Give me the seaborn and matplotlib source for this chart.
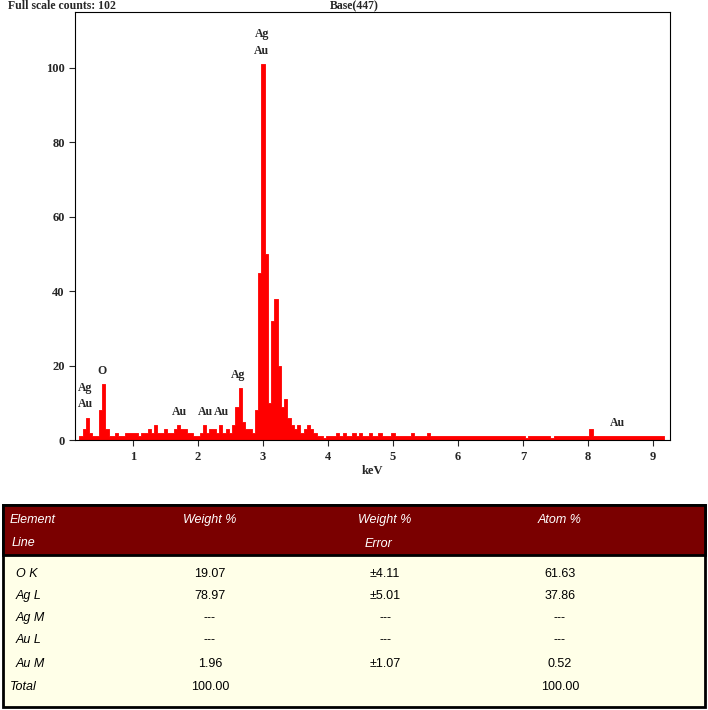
import numpy as np
import pandas as pd
import matplotlib
matplotlib.use("Agg")
import matplotlib.pyplot as plt
import seaborn as sns
from matplotlib.patches import Rectangle

sns.set_style("white")
plt.rcParams['font.family'] = ['Liberation Serif', 'DejaVu Serif']

# spectrum: energy start, step, counts
e_start = 0.20
e_step = 0.05
counts = [1, 3, 6, 2, 1, 1, 8, 15, 3, 1, 1, 2, 1, 1, 2, 2, 2, 2, 1, 2,
          2, 3, 2, 4, 2, 2, 3, 2, 2, 3, 4, 3, 3, 2, 2, 1, 1, 2, 4, 2,
          3, 3, 2, 4, 2, 3, 2, 4, 9, 14, 5, 3, 3, 2, 8, 45, 101, 50, 10, 32,
          38, 20, 9, 11, 6, 4, 3, 4, 2, 3, 4, 3, 2, 1, 1, 0.5, 1, 1, 1, 2,
          1, 2, 1, 1, 2, 1, 2, 1, 1, 2, 1, 1, 2, 1, 1, 1, 2, 1, 1, 1,
          1, 1, 2, 1, 1, 1, 1, 2, 1, 1, 1, 1, 1, 1, 1, 1, 1, 1, 1, 1,
          1, 1, 1, 1, 1, 1, 1, 1, 1, 1, 1, 1, 1, 1, 1, 1, 1, 0.5, 1, 1,
          1, 1, 1, 1, 1, 0.5, 1, 1, 1, 1, 1, 1, 1, 1, 1, 1, 1, 3, 1, 1,
          1, 1, 1, 1, 1, 1, 1, 1, 1, 1, 1, 1, 1, 1, 1, 1, 1, 1, 1, 1]
energy = [round(e_start + i * e_step, 3) for i in range(len(counts))]

peak_labels = ["Ag\nAu", "O", "Au", "Au", "Au", "Ag", "Ag\nAu", "Au"]
peak_x = [0.27, 0.53, 1.72, 2.12, 2.37, 2.62, 2.98, 8.45]
peak_y = [7, 16, 5, 5, 5, 15, 102, 2]

rows = ["O K", "Ag L", "Ag M", "Au L", "Au M", "Total"]
weight = ["19.07", "78.97", "---", "---", "1.96", "100.00"]
werr = ["±4.11", "±5.01", "---", "---", "±1.07", ""]
atom = ["61.63", "37.86", "---", "---", "0.52", "100.00"]

fig = plt.figure(figsize=(7.08, 7.10), dpi=100)
ax = fig.add_axes([0.106, 0.380, 0.84, 0.603])
df = pd.DataFrame({"keV": energy, "c": counts})
sns.histplot(data=df, x="keV", weights="c", binwidth=e_step, binrange=(e_start - e_step/2, energy[-1] + e_step/2),
             element="step", fill=True, color="red", alpha=1, linewidth=0.6, edgecolor="red", ax=ax)
ax.set_xlim(0.11, 9.26)
ax.set_ylim(0, 115)
ax.set_xticks(range(1, 10))
ax.set_yticks([0, 20, 40, 60, 80, 100])
ax.tick_params(labelsize=9, length=4, direction="out", bottom=True, left=True)
for t in ax.get_xticklabels() + ax.get_yticklabels():
    t.set_fontweight("bold")
ax.set_ylabel("")
ax.set_xlabel("keV", fontsize=9, fontweight="bold", labelpad=2)
for s in ax.spines.values():
    s.set_linewidth(0.8)
    s.set_color("black")
for lab, x, y in zip(peak_labels, peak_x, peak_y):
    ax.text(x, y + 1, lab, ha="center", va="bottom", fontsize=8.5, fontweight="bold", linespacing=1.5)

fig.text(8/708, 1 - 6/710, "Full scale counts: 102", fontsize=8.5, fontweight="bold", va="center")
fig.text(330/708, 1 - 6/710, "Base(447)", fontsize=8.5, fontweight="bold", va="center")

# table
tax = fig.add_axes([0, 0, 1, 1])
tax.set_xlim(0, 708)
tax.set_ylim(710, 0)
tax.axis("off")
tax.add_patch(Rectangle((3, 505), 702, 202, facecolor="#FFFFE8", edgecolor="black", linewidth=2))
tax.add_patch(Rectangle((3, 505), 702, 50, facecolor="#7A0000", edgecolor="black", linewidth=2))
hf = dict(color="white", fontsize=9, style="italic", family=["Liberation Sans", "DejaVu Sans"], va="center")
tax.text(10, 520, "Element", ha="left", **hf)
tax.text(12, 543, "Line", ha="left", **hf)
tax.text(210, 520, "Weight %", ha="center", **hf)
tax.text(385, 520, "Weight %", ha="center", **hf)
tax.text(378, 544, "Error", ha="center", **hf)
tax.text(560, 520, "Atom %", ha="center", **hf)
bf = dict(color="black", fontsize=9, family=["Liberation Sans", "DejaVu Sans"], va="center")
ys = [574, 596, 618, 640, 664, 687]
for r, w, e, a, y in zip(rows, weight, werr, atom, ys):
    tax.text(16 if r != "Total" else 10, y, r, ha="left", style="italic", **bf)
    tax.text(210, y, w, ha="center", **bf)
    tax.text(385, y, e, ha="center", **bf)
    tax.text(560, y, a, ha="center", **bf)

fig.savefig("out.png", dpi=100)
